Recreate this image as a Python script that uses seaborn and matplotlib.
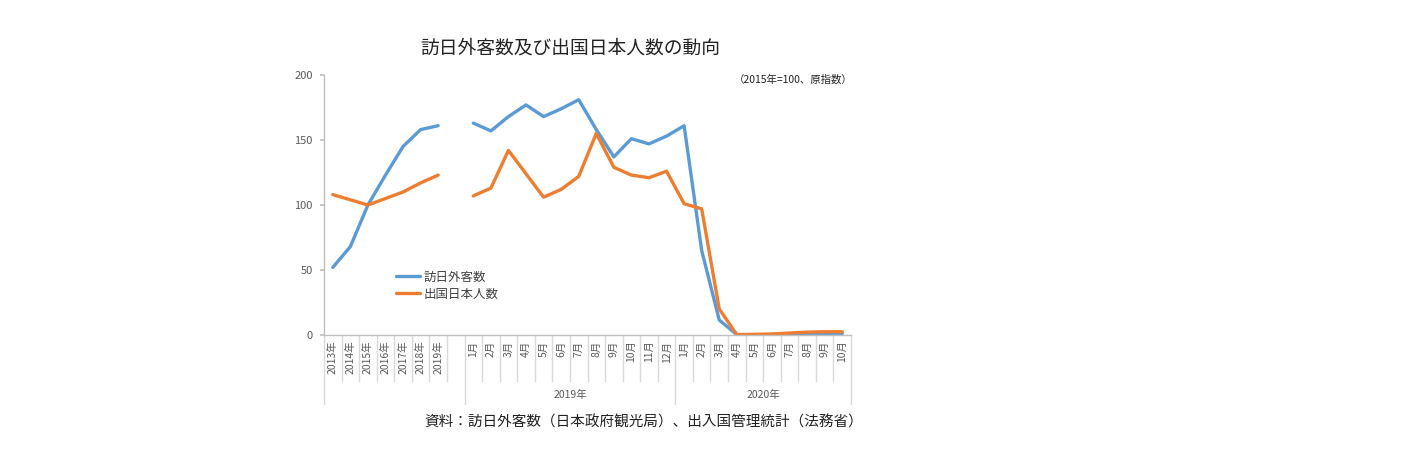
import numpy as np
import pandas as pd
import matplotlib
matplotlib.use('Agg')
import matplotlib.pyplot as plt
import matplotlib.transforms as mtransforms
import seaborn as sns

# ## Veriler
yil_etiketleri = ['2013年', '2014年', '2015年', '2016年', '2017年', '2018年', '2019年']
ay_2019 = [f'{i}月' for i in range(1, 13)]
ay_2020 = [f'{i}月' for i in range(1, 11)]

hounichi_yillar = [52, 68, 100, 123, 145, 158, 161]
hounichi_2019 = [163, 157, 168, 177, 168, 174, 181, 158, 137, 151, 147, 153]
hounichi_2020 = [161, 65, 11.5, 0.3, 0.2, 0.3, 0.5, 0.6, 0.8, 1.0]

shukkoku_yillar = [108, 104, 100, 105, 110, 117, 123]
shukkoku_2019 = [107, 113, 142, 124, 106, 112, 122, 155, 129, 123, 121, 126]
shukkoku_2020 = [101, 97, 20, 0.3, 0.5, 0.8, 1.5, 2.2, 2.5, 2.5]

seri_adlari = ['訪日外客数', '出国日本人数']
renkler = ['#5B9BD5', '#ED7D31']

# kategori ekseni: yıllar, boş bir aralık, 2019 ayları, 2020 ayları
kategoriler = yil_etiketleri + [''] + ay_2019 + ay_2020
degerler = {
    seri_adlari[0]: hounichi_yillar + [np.nan] + hounichi_2019 + hounichi_2020,
    seri_adlari[1]: shukkoku_yillar + [np.nan] + shukkoku_2019 + shukkoku_2020,
}

satirlar = []
for seri in seri_adlari:
    for konum, (etiket, deger) in enumerate(zip(kategoriler, degerler[seri])):
        if etiket == '':
            continue
        satirlar.append({'konum': konum, 'deger': deger, 'seri': seri,
                         'parca': 0 if konum < len(yil_etiketleri) else 1})
df = pd.DataFrame(satirlar)

# ## Grafik
sns.set_theme(style='white')
plt.rcParams['font.family'] = ['Noto Sans CJK JP', 'DejaVu Sans']
gri = '#595959'

fig = plt.figure(figsize=(14.25, 4.61), dpi=100)
ax = fig.add_axes([324 / 1425, 1 - 335 / 461, 527 / 1425, 260 / 461])

sns.lineplot(data=df, x='konum', y='deger', hue='seri', units='parca',
             estimator=None, palette=renkler, hue_order=seri_adlari,
             linewidth=2.4, ax=ax)

ax.set_xlim(-0.5, len(kategoriler) - 0.5)
ax.set_ylim(0, 200)
ax.set_yticks(np.arange(0, 201, 50))
ax.tick_params(axis='y', labelsize=8, labelcolor=gri, length=3, color='#BFBFBF',
               direction='out', left=True, pad=5)
ax.set_xticks(range(len(kategoriler)))
ax.set_xticklabels(kategoriler, rotation=90, fontsize=7.5, color=gri)
ax.tick_params(axis='x', length=0, pad=4)
ax.set_xlabel('')
ax.set_ylabel('')

for yon in ['top', 'right']:
    ax.spines[yon].set_visible(False)
for yon in ['left', 'bottom']:
    ax.spines[yon].set_color('#BFBFBF')
    ax.spines[yon].set_linewidth(1)

# tablo şeklindeki kategori ekseni çizgileri
karisik = mtransforms.blended_transform_factory(ax.transData, ax.transAxes)
grup_sinirlari = [-0.5, 7.5, 19.5, 29.5]
for i in range(len(kategoriler) + 1):
    x = i - 0.5
    alt = -0.265 if x in grup_sinirlari else -0.175
    ax.plot([x, x], [0, alt], color='#D9D9D9', linewidth=1, transform=karisik,
            clip_on=False)
ax.text(13.5, -0.23, '2019年', transform=karisik, ha='center', va='center',
        fontsize=7.5, color=gri)
ax.text(24.5, -0.23, '2020年', transform=karisik, ha='center', va='center',
        fontsize=7.5, color=gri)

leg = ax.legend(loc='upper left', bbox_to_anchor=(0.115, 0.29), frameon=False,
                fontsize=9, handlelength=1.9, labelspacing=0.3, handletextpad=0.3)
for cizgi in leg.get_lines():
    cizgi.set_linewidth(2.4)
for yazi in leg.get_texts():
    yazi.set_color('#404040')

fig.text(570 / 1425, 1 - 48 / 461, '訪日外客数及び出国日本人数の動向',
         ha='center', va='center', fontsize=13.5, color='#222222')
fig.text(853 / 1425, 1 - 80 / 461, '（2015年=100、原指数）',
         ha='right', va='center', fontsize=7.5, color='#222222')
fig.text(424 / 1425, 1 - 423 / 461,
         '資料：訪日外客数（日本政府観光局）、出入国管理統計（法務省）',
         ha='left', va='center', fontsize=10.5, color='#222222')

fig.savefig('out.png', dpi=100, facecolor='white')
